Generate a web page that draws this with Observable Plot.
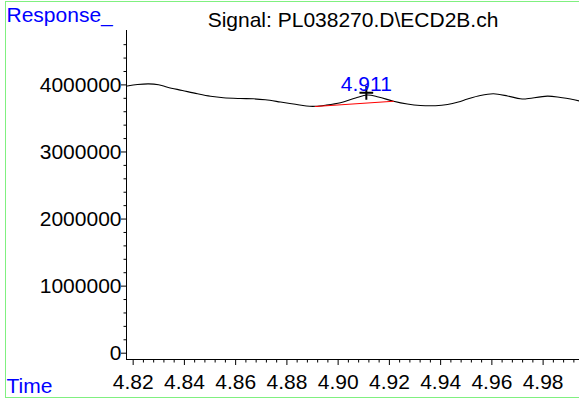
<!DOCTYPE html>
<html>
<head>
<meta charset="utf-8">
<script src="https://cdn.jsdelivr.net/npm/d3@7"></script>
<script src="https://cdn.jsdelivr.net/npm/@observablehq/plot@0.6"></script>
<style>
  html, body { margin: 0; padding: 0; background: #fff; overflow: hidden; }
  #wrap { position: relative; width: 579px; height: 399px; }
  #border { position: absolute; left: 5px; top: 1px; width: 600px; height: 395px; border: 1px solid #80f080; pointer-events: none; }
  svg { display: block; }
</style>
</head>
<body>
<div id="wrap"><div id="border"></div></div>
<script>
// Signal trace (time in min, response in counts)
const times = [4.8177, 4.8217, 4.8260, 4.8299, 4.8334, 4.8392, 4.8451, 4.8502, 4.8552, 4.8619, 4.8669, 4.8716, 4.8775, 4.8826, 4.8876, 4.8911, 4.8950, 4.9009, 4.9068, 4.9114, 4.9157, 4.9216, 4.9270, 4.9321, 4.9380, 4.9427, 4.9469, 4.9505, 4.9555, 4.9606, 4.9661, 4.9711, 4.9731, 4.9817, 4.9868, 4.9907, 4.9942];
const responses = [3984000, 4006000, 4016000, 4003000, 3966000, 3917000, 3867000, 3830000, 3808000, 3797000, 3793000, 3778000, 3745000, 3715000, 3685000, 3681000, 3696000, 3733000, 3805000, 3849000, 3820000, 3757000, 3715000, 3693000, 3690000, 3708000, 3745000, 3790000, 3842000, 3867000, 3835000, 3793000, 3790000, 3832000, 3812000, 3790000, 3760000];

// Integration baseline of the peak
const baselineTimes = [4.8911, 4.9216];
const baselineResponses = [3678000, 3757000];

// Peak apex marker
const peakTimes = [4.911];
const peakResponses = [3882000];
const peakLabels = ["4.911"];

// Axes
const xDomain = [4.8174, 4.9942];
const yDomain = [-93900, 4811100];
const xTickValues = [4.82, 4.84, 4.86, 4.88, 4.90, 4.92, 4.94, 4.96, 4.98];
const xTickLabels = ["4.82", "4.84", "4.86", "4.88", "4.90", "4.92", "4.94", "4.96", "4.98"];
const yTickValues = [0, 1000000, 2000000, 3000000, 4000000];
const yTickLabels = ["0", "1000000", "2000000", "3000000", "4000000"];

const titleText = "Signal: PL038270.D\\ECD2B.ch";
const yTitle = "Response_";
const xTitle = "Time";

const xMinor = d3.range(0, 44).map(i => +(4.82 + i * 0.004).toFixed(3)).filter(v => v <= 4.993 && !xTickValues.some(t => Math.abs(t - v) < 1e-6));
const yMinor = d3.range(0, 24).map(i => i * 200000).filter(v => v % 1000000 !== 0);

const signal = times.map((t, i) => ({t, r: responses[i]}));
const baseline = baselineTimes.map((t, i) => ({t, r: baselineResponses[i]}));
const peaks = peakTimes.map((t, i) => ({t, r: peakResponses[i], label: peakLabels[i]}));

const FONT = "'Liberation Sans', Arial, Helvetica, sans-serif";

const chart = Plot.plot({
  width: 579,
  height: 399,
  marginLeft: 126,
  marginRight: 0,
  marginTop: 30,
  marginBottom: 40,
  style: {fontFamily: FONT, fontSize: "21px", background: "transparent", overflow: "visible", color: "black"},
  x: {domain: xDomain},
  y: {domain: yDomain},
  marks: [
    Plot.ruleX([xDomain[0]], {stroke: "black", strokeWidth: 1}),
    Plot.ruleY([yDomain[0]], {stroke: "black", strokeWidth: 1}),
    Plot.axisY({ticks: yTickValues, tickSize: 5, tickPadding: 0, tickFormat: d => yTickLabels[yTickValues.indexOf(d)], label: null, fontSize: 21, fill: "black"}),
    Plot.axisY({ticks: yMinor, tickSize: 2.5, tickFormat: () => "", label: null}),
    Plot.axisX({ticks: xTickValues, tickSize: 6, tickPadding: 9, tickFormat: d => xTickLabels[xTickValues.findIndex(t => Math.abs(t - d) < 1e-9)], label: null, fontSize: 21, fill: "black"}),
    Plot.axisX({ticks: xMinor, tickSize: 3.5, tickFormat: () => "", label: null}),
    Plot.line(signal, {x: "t", y: "r", stroke: "black", strokeWidth: 1.1, curve: "catmull-rom"}),
    Plot.line(baseline, {x: "t", y: "r", stroke: "red", strokeWidth: 1.1}),
    Plot.dot(peaks, {x: "t", y: "r", symbol: "plus", r: 4.5, stroke: "black", strokeWidth: 2}),
    Plot.text(peaks, {x: "t", y: "r", text: "label", dy: -9, fill: "blue", fontSize: 21}),
    Plot.text([yTitle], {text: d => d, frameAnchor: "top-left", dx: -120, dy: -15.5, textAnchor: "start", lineAnchor: "middle", fill: "blue", fontSize: 21}),
    Plot.text([titleText], {text: d => d, frameAnchor: "top", dy: -10, lineAnchor: "middle", fill: "black", fontSize: 21}),
    Plot.text([xTitle], {text: d => d, frameAnchor: "bottom-left", dx: -120, dy: 27, textAnchor: "start", lineAnchor: "middle", fill: "blue", fontSize: 21})
  ]
});
document.getElementById("wrap").prepend(chart);
</script>
</body>
</html>
